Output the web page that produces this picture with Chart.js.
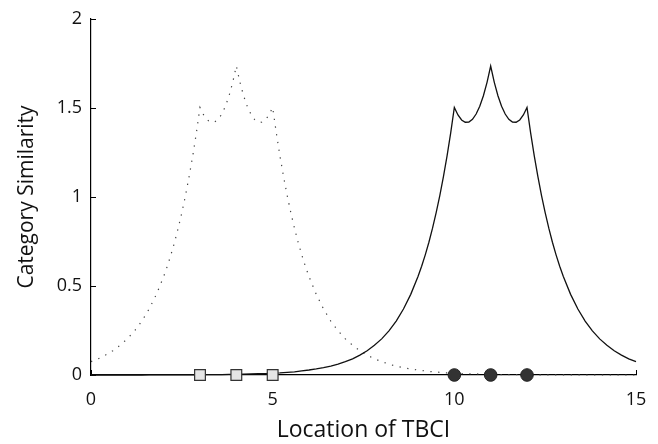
<!DOCTYPE html>
<html>
<head>
<meta charset="utf-8">
<script src="https://cdn.jsdelivr.net/npm/chart.js@4"></script>
<style>
  html, body { margin: 0; padding: 0; background: #fff; }
  #wrap { width: 658px; height: 444px; position: relative; }
</style>
</head>
<body>
<div id="wrap"><canvas id="c" width="658" height="444"></canvas></div>
<script>
// Dotted curve: sample locations and similarity (category centred on 3,4,5)
const dottedX = [
  0,0.2,0.4,0.6,0.8,1,1.2,1.4,1.6,1.8,
  2,2.1,2.2,2.3,2.4,2.5,2.6,2.7,2.8,2.9,
  3,3.1,3.2,3.3,3.4,3.5,3.6,3.7,3.8,3.9,
  4,4.1,4.2,4.3,4.4,4.5,4.6,4.7,4.8,4.9,
  5,5.1,5.2,5.3,5.4,5.5,5.6,5.7,5.8,5.9,
  6,
  6.2,6.4,6.6,6.8,7,7.2,7.4,7.6,7.8,
  8,8.2,8.4,8.6,8.8,9,9.2,9.4,9.6,9.8,
  10,10.2,10.4,10.6,10.8,11,11.2,11.4,11.6,11.8,
  12,12.2,12.4,12.6,12.8,13,13.2,13.4,13.6,13.8,
  14,14.2,14.4,14.6,14.8,15
];
const dottedSimilarity = [
  0.075,0.091,0.112,0.136,0.167,0.203,0.248,0.303,0.371,0.453,
  0.553,0.611,0.675,0.746,0.825,0.912,1.008,1.114,1.231,1.360,
  1.503,1.461,1.433,1.420,1.421,1.436,1.466,1.510,1.569,1.644,
  1.736,1.644,1.569,1.510,1.466,1.436,1.421,1.420,1.433,1.461,
  1.503,1.360,1.231,1.114,1.008,0.912,0.825,0.746,0.675,0.611,
  0.553,
  0.453,0.371,0.303,0.248,0.203,0.167,0.136,0.112,0.091,
  0.075,0.061,0.050,0.041,0.034,0.028,0.023,0.018,0.015,0.012,
  0.010,0.008,0.007,0.006,0.005,0.004,0.003,0.002,0.002,0.002,
  0.001,0.001,0.001,0.001,0.001,0.001,0.001,0.001,0,0,
  0,0,0,0,0,0
];
// Solid curve: sample locations and similarity (category centred on 10,11,12)
const solidX = [
  0,0.2,0.4,0.6,0.8,1,1.2,1.4,1.6,1.8,
  2,2.2,2.4,2.6,2.8,3,3.2,3.4,3.6,3.8,
  4,4.2,4.4,4.6,4.8,5,5.2,5.4,5.6,5.8,
  6,6.2,6.4,6.6,6.8,7,7.2,7.4,7.6,7.8,
  8,8.2,8.4,8.6,8.8,
  9,9.1,9.2,9.3,9.4,9.5,9.6,9.7,9.8,9.9,
  10,10.1,10.2,10.3,10.4,10.5,10.6,10.7,10.8,10.9,
  11,11.1,11.2,11.3,11.4,11.5,11.6,11.7,11.8,11.9,
  12,12.1,12.2,12.3,12.4,12.5,12.6,12.7,12.8,12.9,
  13,13.2,13.4,13.6,13.8,14,14.2,14.4,14.6,14.8,15
];
const solidSimilarity = [
  0,0,0,0,0,0,0,0,0.001,0.001,
  0.001,0.001,0.001,0.001,0.001,0.001,0.002,0.002,0.002,0.003,
  0.004,0.005,0.006,0.007,0.008,0.010,0.012,0.015,0.018,0.023,
  0.028,0.034,0.041,0.050,0.061,0.075,0.091,0.112,0.136,0.167,
  0.203,0.248,0.303,0.371,0.453,
  0.553,0.611,0.675,0.746,0.825,0.912,1.008,1.114,1.231,1.360,
  1.503,1.461,1.433,1.420,1.421,1.436,1.466,1.510,1.569,1.644,
  1.736,1.644,1.569,1.510,1.466,1.436,1.421,1.420,1.433,1.461,
  1.503,1.360,1.231,1.114,1.008,0.912,0.825,0.746,0.675,0.611,
  0.553,0.453,0.371,0.303,0.248,0.203,0.167,0.136,0.112,0.091,0.075
];
// Exemplar locations
const squareExemplars = [3, 4, 5];
const circleExemplars = [10, 11, 12];
const exemplarLevel = 0;

const xTicks = [0, 5, 10, 15];
const yTicks = [0, 0.5, 1, 1.5, 2];

const FONT = '"Open Sans", "Noto Sans", sans-serif';

const toPts = (xs, ys) => xs.map((x, i) => ({ x: x, y: ys[i] }));

const inwardTicks = {
  id: 'inwardTicks',
  beforeDatasetsDraw(chart) {
    const ctx = chart.ctx;
    const xs = chart.scales.x, ys = chart.scales.y;
    const len = 5;
    ctx.save();
    ctx.strokeStyle = '#000';
    ctx.lineWidth = 1;
    ctx.beginPath();
    xTicks.forEach(v => {
      const px = Math.round(xs.getPixelForValue(v)) + 0.5;
      const py = ys.getPixelForValue(0);
      ctx.moveTo(px, py);
      ctx.lineTo(px, py - len);
    });
    yTicks.forEach(v => {
      const py = Math.round(ys.getPixelForValue(v)) + 0.5;
      const px = xs.getPixelForValue(0);
      ctx.moveTo(px, py);
      ctx.lineTo(px + len, py);
    });
    ctx.stroke();
    ctx.restore();
  }
};

new Chart(document.getElementById('c'), {
  type: 'line',
  data: {
    datasets: [
      {
        label: 'dotted',
        data: toPts(dottedX, dottedSimilarity),
        borderColor: '#444',
        borderWidth: 1.2,
        borderDash: [1.3, 6.5],
        pointRadius: 0,
        tension: 0,
        fill: false,
        order: 3
      },
      {
        label: 'solid',
        data: toPts(solidX, solidSimilarity),
        borderColor: '#111',
        borderWidth: 1.3,
        pointRadius: 0,
        tension: 0,
        fill: false,
        order: 2
      },
      {
        label: 'squares',
        type: 'scatter',
        data: squareExemplars.map(x => ({ x: x, y: exemplarLevel })),
        pointStyle: 'rect',
        pointRadius: 7.6,
        pointBackgroundColor: '#e6e6e6',
        pointBorderColor: '#333',
        pointBorderWidth: 1.2,
        showLine: false,
        order: 1
      },
      {
        label: 'circles',
        type: 'scatter',
        data: circleExemplars.map(x => ({ x: x, y: exemplarLevel })),
        pointStyle: 'circle',
        pointRadius: 6.3,
        pointBackgroundColor: '#333',
        pointBorderColor: '#222',
        pointBorderWidth: 1,
        showLine: false,
        order: 1
      }
    ]
  },
  options: {
    responsive: false,
    animation: false,
    clip: false,
    layout: { padding: { left: 0, right: 22, top: 19, bottom: 0 } },
    plugins: { legend: { display: false }, tooltip: { enabled: false } },
    scales: {
      x: {
        type: 'linear',
        min: 0, max: 15,
        afterBuildTicks: s => { s.ticks = xTicks.map(v => ({ value: v })); },
        afterFit: s => { s.height = 69; s.paddingLeft = 0; s.paddingRight = 0; },
        grid: { display: true, drawOnChartArea: false, drawTicks: false },
        border: { display: true, color: '#000', width: 1.2 },
        ticks: {
          color: '#111', padding: 14,
          font: { family: FONT, size: 18 },
          callback: v => String(v)
        },
        title: {
          display: true, text: 'Location of TBCI', color: '#111',
          font: { family: FONT, size: 23 },
          padding: { top: 0, bottom: 0 }
        }
      },
      y: {
        min: 0, max: 2,
        afterBuildTicks: s => { s.ticks = yTicks.map(v => ({ value: v })); },
        afterFit: s => { s.width = 91; s.paddingTop = 0; s.paddingBottom = 0; },
        grid: { display: true, drawOnChartArea: false, drawTicks: false },
        border: { display: true, color: '#000', width: 1.2 },
        ticks: {
          color: '#111', padding: 9,
          font: { family: FONT, size: 18 },
          callback: v => String(v)
        },
        title: {
          display: true, text: 'Category Similarity', color: '#111',
          font: { family: FONT, size: 21 },
          padding: { top: 14, bottom: 14 }
        }
      }
    }
  },
  plugins: [inwardTicks]
});
</script>
</body>
</html>
